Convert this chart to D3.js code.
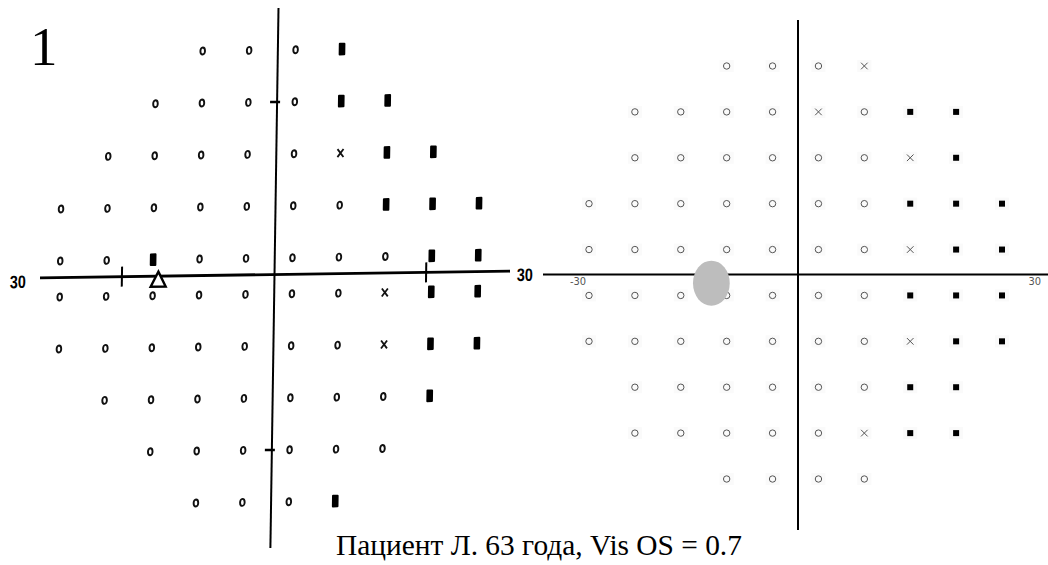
<!DOCTYPE html>
<html>
<head>
<meta charset="utf-8">
<script src="https://cdn.jsdelivr.net/npm/d3@7"></script>
<style>
  body { margin: 0; background: #fff; }
</style>
</head>
<body>
<svg id="chart" width="1048" height="565"></svg>
<script>
// test point eccentricities (degrees), left to right / top to bottom
const colDeg = [-27, -21, -15, -9, -3, 3, 9, 15, 21, 27];
const rowDeg = [27, 21, 15, 9, 3, -3, -9, -15, -21, -27];

// o = seen, x = relative defect, # = absolute defect, . = not tested
const leftRows = [
  "...ooo#...",
  "..oooo##..",
  ".ooooox##.",
  "ooooooo###",
  "oo#ooooo##",
  "ooooooox##",
  "ooooooox##",
  ".ooooooo#.",
  "..oooooo..",
  "...ooo#..."
];
const rightRows = [
  "...ooox...",
  ".ooooxo##.",
  ".oooooox#.",
  "ooooooo###",
  "ooooooox##",
  "ooooooo###",
  "ooooooox##",
  ".oooooo##.",
  ".ooooox##.",
  "...oooo..."
];

const leftBlindSpot = { x: -14.3 };
const rightBlindSpot = { x: -11, y: -1.4, rx: 2.4, ry: 2.95 };
const leftAxisTicksX = [-19, 20.3];
const leftAxisTicksY = [21, -21];

const caption = "Пациент Л. 63 года, Vis OS = 0.7";
const panelNumber = "1";

const toPoints = (rows) =>
  rows.flatMap((row, i) =>
    row.split("").map((code, j) => ({ x: colDeg[j], y: rowDeg[i], code }))
  ).filter((d) => d.code !== ".");

const leftPoints = toPoints(leftRows);
const rightPoints = toPoints(rightRows);

const svg = d3.select("#chart");

// ---------- left panel (scanned chart, slightly skewed) ----------
const lc = 274.5;
const xL = d3.scaleLinear().domain([-27, 27]).range([60, 478]);
const yL = d3.scaleLinear().domain([-27, -3, 3, 27]).range([502, 294, 258, 50]);

const left = svg.append("g")
  .attr("transform", `matrix(1,-0.014,-0.015,1,${0.015 * lc},${0.014 * lc})`);

left.append("line")
  .attr("x1", lc).attr("x2", lc).attr("y1", 8).attr("y2", 548)
  .attr("stroke", "#000").attr("stroke-width", 2);
left.append("line")
  .attr("x1", 40).attr("x2", 510).attr("y1", lc).attr("y2", lc)
  .attr("stroke", "#000").attr("stroke-width", 2.8);

left.selectAll(".tickx").data(leftAxisTicksX).enter().append("line")
  .attr("x1", (d) => xL(d)).attr("x2", (d) => xL(d))
  .attr("y1", lc - 10).attr("y2", lc + 10)
  .attr("stroke", "#000").attr("stroke-width", 2);
left.selectAll(".ticky").data(leftAxisTicksY).enter().append("line")
  .attr("x1", lc - 7).attr("x2", lc + 3)
  .attr("y1", (d) => yL(d)).attr("y2", (d) => yL(d))
  .attr("stroke", "#000").attr("stroke-width", 2.5);

left.append("path")
  .attr("transform", `translate(${xL(leftBlindSpot.x)},${lc})`)
  .attr("d", "M0,-4.5L7.5,10.5L-7.5,10.5Z")
  .attr("fill", "#fff").attr("stroke", "#000").attr("stroke-width", 2.4)
  .attr("stroke-linejoin", "miter");

left.selectAll(".lab30").data([{ x: 10, a: "start" }, { x: 517, a: "start" }]).enter()
  .append("text")
  .attr("x", (d) => d.x).attr("y", lc + 10)
  .attr("text-anchor", (d) => d.a)
  .attr("font-family", "'Liberation Sans', 'DejaVu Sans', sans-serif")
  .attr("font-weight", "bold").attr("font-size", 18)
  .attr("textLength", 16).attr("lengthAdjust", "spacingAndGlyphs")
  .text("30");

const lp = left.selectAll(".lp").data(leftPoints).enter().append("g")
  .attr("transform", (d) => `translate(${xL(d.x)},${yL(d.y)})`);
lp.filter((d) => d.code === "o").append("ellipse")
  .attr("rx", 2.3).attr("ry", 3.5)
  .attr("fill", "none").attr("stroke", "#111").attr("stroke-width", 1.9);
lp.filter((d) => d.code === "#").append("rect")
  .attr("x", -3.3).attr("y", -6.3).attr("width", 6.6).attr("height", 12.6)
  .attr("rx", 1).attr("fill", "#000");
lp.filter((d) => d.code === "x").append("path")
  .attr("d", "M-3,-4L3,4M3,-4L-3,4")
  .attr("stroke", "#111").attr("stroke-width", 1.8);

svg.append("text")
  .attr("x", 30).attr("y", 65)
  .attr("font-family", "'Liberation Serif', 'Times New Roman', serif")
  .attr("font-size", 55)
  .text(panelNumber);

// ---------- right panel ----------
const xR = d3.scaleLinear().domain([-27, 27]).range([589, 1002]);
const yR = d3.scaleLinear().domain([27, -27]).range([66, 479]);
const rAxisX = 798, rAxisY = 274.5;

const right = svg.append("g");

const rp = right.selectAll(".rp").data(rightPoints).enter().append("g")
  .attr("transform", (d) => `translate(${xR(d.x)},${yR(d.y)})`);
rp.append("rect")
  .attr("x", -7).attr("y", -6).attr("width", 14).attr("height", 12)
  .attr("fill", "#fafafa");
rp.filter((d) => d.code === "o").append("circle")
  .attr("r", 3.2).attr("fill", "none")
  .attr("stroke", "#555").attr("stroke-width", 1);
rp.filter((d) => d.code === "#").append("rect")
  .attr("x", -3).attr("y", -3).attr("width", 6).attr("height", 6)
  .attr("fill", "#000");
rp.filter((d) => d.code === "x").append("path")
  .attr("d", "M-3.3,-3.3L3.3,3.3M3.3,-3.3L-3.3,3.3")
  .attr("stroke", "#555").attr("stroke-width", 1);

right.append("line")
  .attr("x1", rAxisX).attr("x2", rAxisX).attr("y1", 20).attr("y2", 530)
  .attr("stroke", "#000").attr("stroke-width", 2);
right.append("line")
  .attr("x1", 543).attr("x2", 1048).attr("y1", rAxisY).attr("y2", rAxisY)
  .attr("stroke", "#000").attr("stroke-width", 2);

right.append("ellipse")
  .attr("cx", xR(rightBlindSpot.x)).attr("cy", yR(rightBlindSpot.y))
  .attr("rx", xR(rightBlindSpot.rx) - xR(0))
  .attr("ry", yR(0) - yR(rightBlindSpot.ry))
  .attr("fill", "#bdbdbd");

right.selectAll(".rlab").data([{ x: 570, a: "start", t: "-30" }, { x: 1041, a: "end", t: "30" }]).enter()
  .append("text")
  .attr("x", (d) => d.x).attr("y", 285)
  .attr("text-anchor", (d) => d.a)
  .attr("font-family", "'Liberation Sans Narrow', 'DejaVu Sans Condensed', sans-serif")
  .attr("font-size", 11).attr("fill", "#555")
  .text((d) => d.t);

// ---------- caption ----------
svg.append("text")
  .attr("x", 336).attr("y", 555)
  .attr("font-family", "'Liberation Serif', 'Times New Roman', serif")
  .attr("font-size", 29.4)
  .text(caption);
</script>
</body>
</html>
